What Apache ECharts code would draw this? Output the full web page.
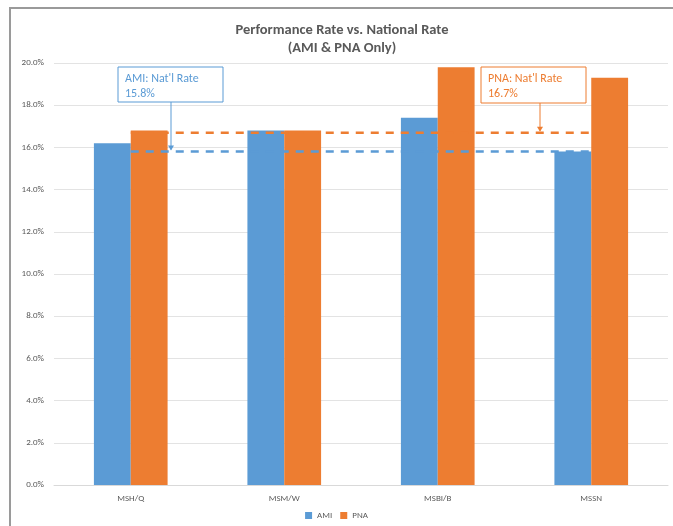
<!DOCTYPE html>
<html><head><meta charset="utf-8">
<script src="https://cdn.jsdelivr.net/npm/echarts@6/dist/echarts.min.js"></script>
<style>html,body{margin:0;padding:0;background:#fff}#c{width:673px;height:526px}</style>
</head><body><div id="c"></div>
<script>
const categories = ['MSH/Q', 'MSM/W', 'MSBI/B', 'MSSN'];
const amiValues = [16.2, 16.8, 17.4, 15.8];
const pnaValues = [16.8, 16.8, 19.8, 19.3];
const amiNatRate = 15.8;
const pnaNatRate = 16.7;
const yTicks = [0, 2, 4, 6, 8, 10, 12, 14, 16, 18, 20];

const blue = '#5B9BD5', orange = '#ED7D31', txt = '#595959';
const chart = echarts.init(document.getElementById('c'));
const font = 'Calibri, "Liberation Sans", "Open Sans", sans-serif';

chart.setOption({
  animation: false,
  textStyle: { fontFamily: font },
  title: {
    text: 'Performance Rate vs. National Rate\n(AMI & PNA Only)',
    left: 337, top: 16, textAlign: 'center',
    textStyle: { fontSize: 14.5, fontWeight: 'bold', color: txt, lineHeight: 18, fontFamily: font }
  },
  legend: {
    data: ['AMI', 'PNA'], bottom: 1, left: 'center',
    itemWidth: 7, itemHeight: 7, itemGap: 8, icon: 'rect',
    textStyle: { fontSize: 9, color: txt, fontFamily: font }
  },
  grid: { left: 54, right: 5, top: 63, bottom: 41, containLabel: false },
  xAxis: {
    type: 'category', data: categories,
    axisLine: { lineStyle: { color: '#d9d9d9' } },
    axisTick: { show: false },
    axisLabel: { fontSize: 9, color: txt, margin: 9 }
  },
  yAxis: {
    type: 'value', min: yTicks[0], max: yTicks[yTicks.length - 1], interval: 2,
    axisLine: { show: false }, axisTick: { show: false },
    splitLine: { lineStyle: { color: '#e3e3e3' } },
    axisLabel: { fontSize: 9, color: txt, margin: 10, formatter: v => v.toFixed(1) + '%' }
  },
  series: [
    { name: 'AMI', type: 'bar', data: amiValues, itemStyle: { color: blue }, barGap: '0%', barCategoryGap: '52%' },
    { name: 'PNA', type: 'bar', data: pnaValues, itemStyle: { color: orange } },
    { name: 'AMI Nat', type: 'line', data: categories.map(() => amiNatRate), symbol: 'none', z: 5,
      lineStyle: { color: blue, width: 2.5, type: [8, 7] } },
    { name: 'PNA Nat', type: 'line', data: categories.map(() => pnaNatRate), symbol: 'none', z: 5,
      lineStyle: { color: orange, width: 2.5, type: [8, 7] } }
  ]
});

const yAmi = chart.convertToPixel({ yAxisIndex: 0 }, amiNatRate);
const yPna = chart.convertToPixel({ yAxisIndex: 0 }, pnaNatRate);

function callout(x, y, w, h, ax, ay, color, lines) {
  return [
    { type: 'rect', shape: { x: x, y: y, width: w, height: h }, style: { fill: '#fff', stroke: color, lineWidth: 1 }, z: 10 },
    { type: 'text', x: x + 7, y: y + 4, style: { text: lines, fill: color, font: '12px ' + font, lineHeight: 15 }, z: 11 },
    { type: 'line', shape: { x1: ax, y1: y + h, x2: ax, y2: ay - 2 }, style: { stroke: color, lineWidth: 1 }, z: 10 },
    { type: 'polygon', shape: { points: [[ax - 3, ay - 6], [ax + 3, ay - 6], [ax, ay - 1]] }, style: { fill: color }, z: 10 }
  ];
}

chart.setOption({
  graphic: [
    { type: 'rect', shape: { x: 10, y: 8, width: 700, height: 560 }, style: { fill: 'none', stroke: '#9a9a9a', lineWidth: 2 }, z: -1 },
    ...callout(118, 67, 105, 35, 171, yAmi, blue, "AMI: Nat'l Rate\n" + amiNatRate.toFixed(1) + '%'),
    ...callout(481, 67, 105, 36, 540, yPna, orange, "PNA: Nat'l Rate\n" + pnaNatRate.toFixed(1) + '%')
  ]
});
</script></body></html>
